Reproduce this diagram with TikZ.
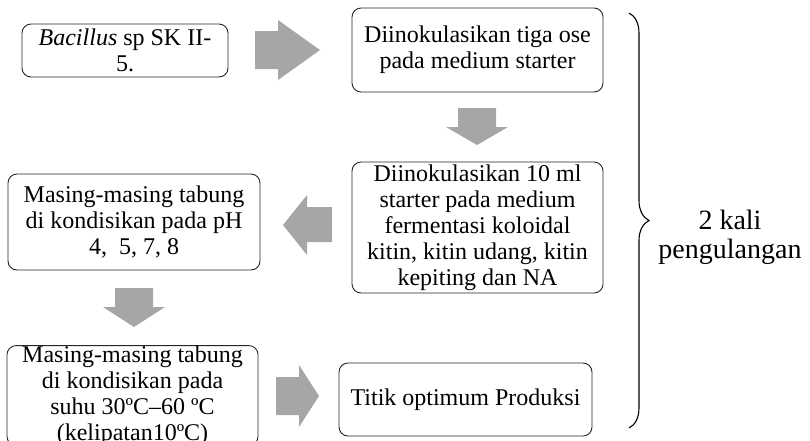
\documentclass[tikz,border=0pt]{standalone}
\usepackage{fontspec}
\setmainfont{Liberation Serif}
\usetikzlibrary{decorations.pathreplacing}
\definecolor{arrowgray}{RGB}{166,166,166}
\begin{document}
\begin{tikzpicture}[x=1pt,y=-1pt,
  box/.style={draw=black!85, line width=0.9pt, rounded corners=9pt, align=center,
    inner xsep=2pt, inner ysep=0pt, font=\fontsize{24}{26}\selectfont},
  barrow/.style={fill=arrowgray, draw=none},
  bracestyle/.style={draw=black, line width=1.1pt, decorate, decoration={brace, amplitude=20pt}},
  bracelabel/.style={align=center, font=\fontsize{28}{29}\selectfont}]
\useasboundingbox (0,0) rectangle (810,440);
% boxes
\node[box, minimum width=206pt, minimum height=53pt] (b1) at (125,50.5) {\textit{Bacillus} sp SK II-\\5.};
\node[box, minimum width=251pt, minimum height=84pt] (b2) at (477.5,50) {Diinokulasikan tiga ose\\pada medium starter};
\node[box, minimum width=251pt, minimum height=131pt] (b3) at (477.5,227.5) {Diinokulasikan 10 ml\\starter pada medium\\fermentasi koloidal\\kitin, kitin udang, kitin\\kepiting dan NA};
\node[box, minimum width=252pt, minimum height=96pt] (b4) at (134,222) {Masing-masing tabung\\di kondisikan pada pH\\4,\ \ 5, 7, 8};
\node[box, minimum width=251pt, minimum height=98pt] (b5) at (132.5,395.5) {Masing-masing tabung\\di kondisikan pada\\suhu 30ºC–60 ºC\\(kelipatan10ºC)};
\node[box, minimum width=253pt, minimum height=73pt] (b6) at (465.5,399.5) {Titik optimum Produksi};
% block arrows
\fill[barrow] (255,31) -- (278,31) -- (278,20) -- (320,50) -- (278,80) -- (278,69) -- (255,69) -- cycle;
\fill[barrow] (458,108) -- (496,108) -- (496,127) -- (508,127) -- (477,145) -- (446,127) -- (458,127) -- cycle;
\fill[barrow] (332,207) -- (307,207) -- (307,195) -- (283,225) -- (307,255) -- (307,242) -- (332,242) -- cycle;
\fill[barrow] (115,288) -- (153,288) -- (153,307) -- (165,307) -- (134,327) -- (103,307) -- (115,307) -- cycle;
\fill[barrow] (276,377) -- (299,377) -- (299,365) -- (319,396) -- (299,427) -- (299,415) -- (276,415) -- cycle;
% brace
\coordinate (bt) at (629,13);
\coordinate (bb) at (629,428);
\draw[bracestyle] (bt) -- (bb);
\node[bracelabel] (lbl) at (730,237) {2 kali\\pengulangan};
\end{tikzpicture}
\end{document}
